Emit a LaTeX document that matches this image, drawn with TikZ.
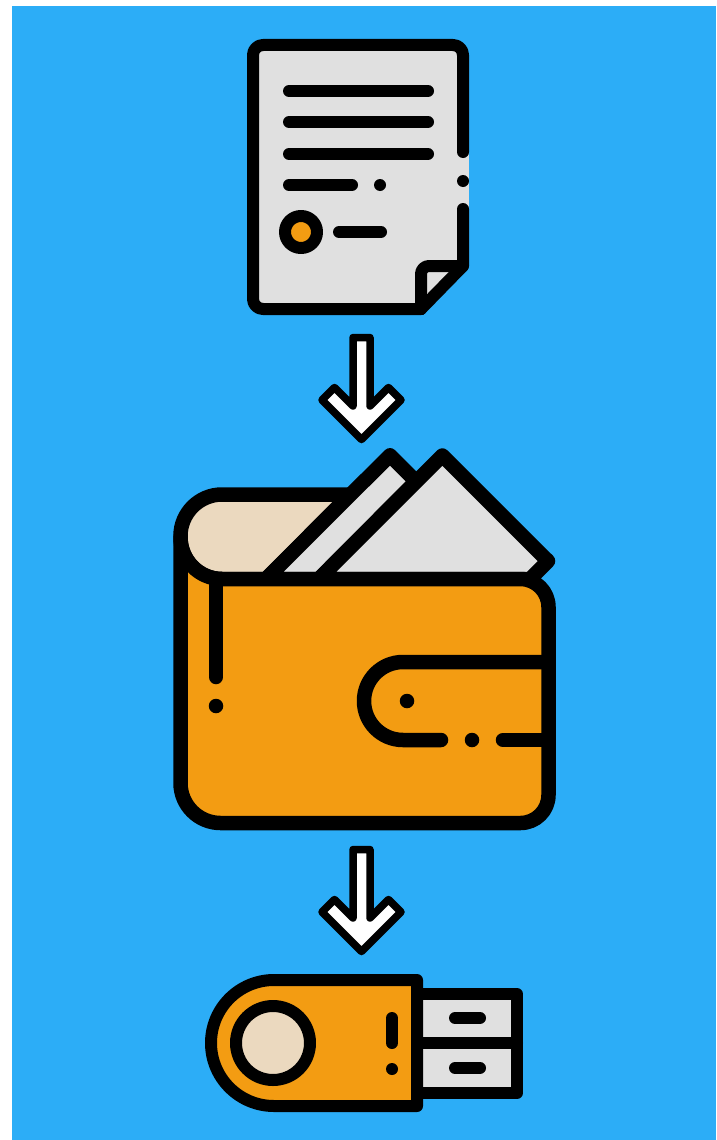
\documentclass[tikz,border=0pt]{standalone}
\definecolor{skyfill}{HTML}{2CADF7}
\definecolor{orangefill}{HTML}{F39C12}
\definecolor{paperfill}{HTML}{E0E0E0}
\definecolor{beigefill}{HTML}{EBD9BF}

\def\downarrowicon{%
  \draw[arrowline] (353,337.5) -- (370,337.5) -- (370,406) -- (388.5,387.5) -- (401,400)
    -- (361.5,439.5) -- (322,400) -- (334.5,387.5) -- (353,406) -- cycle;
}

\begin{document}
\begin{tikzpicture}[x=1pt,y=-1pt,
    ink/.style={black,line width=12pt,line cap=round,line join=round},
    inkwide/.style={black,line width=14.5pt,line cap=round,line join=round},
    arrowline/.style={draw=black,fill=white,line width=7.5pt,line join=round},
    inkdot/.style={fill=black}]
\useasboundingbox (0,0) rectangle (716,1140);
%
% ============ Hintergrund ============
\fill[skyfill] (12,6) rectangle (716,1140);
%
% ============ Dokument ============
\begin{scope}
  % Papierflaeche, rechts bis zum Aussenrand wegen der Luecke
  \fill[paperfill,rounded corners=10pt] (253,45) -- (463,45) -- (463,265) -- (421,309) -- (253,309) -- cycle;
  \fill[paperfill] (460,150) rectangle (469,211);
  % Umriss mit Luecke rechts
  \draw[ink,rounded corners=10pt] (463,152) -- (463,45) -- (253,45) -- (253,309) -- (421,309);
  \draw[ink] (463,209) -- (463,266) -- (421,309);
  \fill[inkdot] (463,181) circle[radius=6pt];
  % Eselsohr
  \draw[ink,rounded corners=8pt] (421,309) -- (421,266) -- (463,266);
  % Textzeilen
  \draw[ink] (289,91) -- (428,91);
  \draw[ink] (289,122) -- (428,122);
  \draw[ink] (289,154) -- (428,154);
  \draw[ink] (289,185) -- (352,185);
  \fill[inkdot] (380,185) circle[radius=6pt];
  % Siegel
  \draw[ink,fill=orangefill] (301,232) circle[radius=16pt];
  \draw[ink] (339,232) -- (381,232);
\end{scope}
%
% Pfeil 1
\downarrowicon
%
% ============ Geldboerse ============
\begin{scope}
  % Klappe hinten
  \draw[inkwide,fill=beigefill] (300,579) [rounded corners=41.5pt] -- (180.5,579) -- (180.5,494.5)
    [sharp corners] -- (350,494.5) -- (266,579);
  % Scheine
  \draw[inkwide,fill=paperfill] (266,579) -- (390,455.3) -- (416,481.3) -- (318.8,579) -- cycle;
  \draw[inkwide,fill=paperfill] (318.8,579) -- (442.3,455.5) -- (548,561) -- (530,579) -- cycle;
  % Koerper
  \draw[inkwide,fill=orangefill] (180.5,537)
    [rounded corners=40pt] -- (180.5,823)
    [rounded corners=28pt] -- (548.5,823) -- (548.5,579)
    [sharp corners] -- (222,579) .. controls (199,579) and (180.5,560) .. (180.5,537) -- cycle;
  % Falz links
  \draw[inkwide] (216,579) -- (216,677);
  \fill[inkdot] (216,706) circle[radius=7.25pt];
  % Lasche
  \draw[inkwide,rounded corners=39pt] (548,662) -- (364,662) -- (364,740) -- (441,740);
  \draw[inkwide] (503,740) -- (548,740);
  \fill[inkdot] (472,740) circle[radius=7.25pt];
  \fill[inkdot] (407,701) circle[radius=7.25pt];
\end{scope}
%
% Pfeil 2
\begin{scope}[yshift=-512pt]
  \downarrowicon
\end{scope}
%
% ============ USB-Stick ============
\begin{scope}
  % Stecker
  \draw[ink,fill=paperfill] (417,994) rectangle (517,1093);
  \draw[ink] (417,1043) -- (517,1043);
  \draw[ink] (455,1018) -- (480,1018);
  \draw[ink] (455,1068) -- (480,1068);
  % Gehaeuse
  \draw[ink,fill=orangefill] (417,980) -- (417,1106) [rounded corners=63pt] -- (211,1106) -- (211,980)
    [sharp corners] -- (417,980) -- cycle;
  \draw[ink,fill=beigefill] (273,1043) circle[radius=37pt];
  \draw[ink] (392,1018) -- (392,1043);
  \fill[inkdot] (392,1069) circle[radius=6pt];
\end{scope}
%
\end{tikzpicture}
\end{document}
